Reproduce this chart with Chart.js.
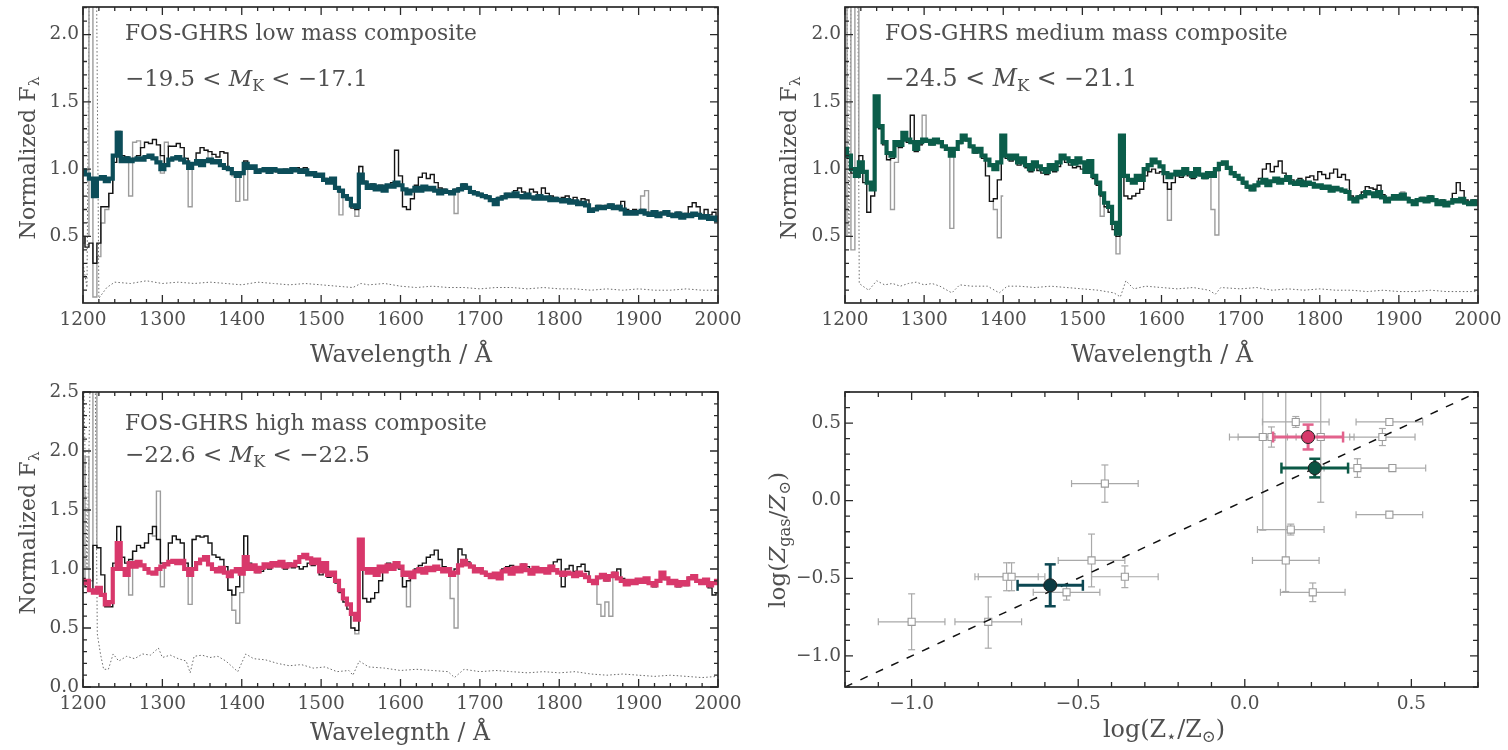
<!DOCTYPE html>
<html><head><meta charset="utf-8">
<script src="https://cdn.jsdelivr.net/npm/chart.js"></script>
<style>
html,body{margin:0;padding:0;background:#fff;overflow:hidden;width:1508px;height:750px}
canvas{position:absolute}
</style></head><body>
<canvas id="c1" width="754" height="375" style="left:0;top:0;width:754px;height:375px"></canvas>
<canvas id="c2" width="754" height="375" style="left:754px;top:0;width:754px;height:375px"></canvas>
<canvas id="c3" width="754" height="375" style="left:0;top:375px;width:754px;height:375px"></canvas>
<canvas id="c4" width="754" height="375" style="left:754px;top:375px;width:754px;height:375px"></canvas>
<script>
// ---------------- DATA ----------------
const WAVE = [
1200,1205,1210,1215,1220,1225,1230,1235,1240,1245,
1250,1255,1260,1265,1270,1275,1280,1285,1290,1295,
1300,1305,1310,1315,1320,1325,1330,1335,1340,1345,
1350,1355,1360,1365,1370,1375,1380,1385,1390,1395,
1400,1405,1410,1415,1420,1425,1430,1435,1440,1445,
1450,1455,1460,1465,1470,1475,1480,1485,1490,1495,
1500,1505,1510,1515,1520,1525,1530,1535,1540,1545,
1550,1555,1560,1565,1570,1575,1580,1585,1590,1595,
1600,1605,1610,1615,1620,1625,1630,1635,1640,1645,
1650,1655,1660,1665,1670,1675,1680,1685,1690,1695,
1700,1705,1710,1715,1720,1725,1730,1735,1740,1745,
1750,1755,1760,1765,1770,1775,1780,1785,1790,1795,
1800,1805,1810,1815,1820,1825,1830,1835,1840,1845,
1850,1855,1860,1865,1870,1875,1880,1885,1890,1895,
1900,1905,1910,1915,1920,1925,1930,1935,1940,1945,
1950,1955,1960,1965,1970,1975,1980,1985,1990,1995,
2000];
const X_TICKS = [1200,1300,1400,1500,1600,1700,1800,1900,2000];
const Y_TICKS_TOP = [0.5,1.0,1.5,2.0];
const Y_TICKS_BOTTOM = [0.0,0.5,1.0,1.5,2.0,2.5];
const Z_TICKS = [-1.0,-0.5,0.0,0.5];

// low mass composite
const LOW_MODEL = [
0.99,0.96,0.93,0.80,0.93,0.94,0.91,0.93,1.10,1.27,
1.06,1.08,1.06,1.07,1.08,1.07,1.09,1.10,1.08,1.05,
1.00,1.03,1.07,1.08,1.09,1.07,1.05,1.01,1.04,1.06,
1.03,1.06,1.07,1.05,1.06,1.03,1.01,1.00,0.97,0.95,
0.97,1.04,1.01,1.02,0.98,0.99,1.00,0.98,1.00,0.99,
0.98,0.99,0.98,1.00,0.99,0.98,0.99,0.96,0.97,0.95,
0.96,0.92,0.90,0.93,0.86,0.84,0.80,0.78,0.73,0.72,
0.96,0.90,0.86,0.88,0.85,0.87,0.84,0.88,0.87,0.90,
0.88,0.85,0.82,0.84,0.86,0.84,0.87,0.85,0.86,0.84,
0.82,0.84,0.83,0.82,0.84,0.85,0.88,0.86,0.83,0.82,
0.81,0.80,0.79,0.77,0.74,0.78,0.79,0.81,0.80,0.82,
0.80,0.79,0.81,0.79,0.78,0.80,0.78,0.79,0.77,0.78,
0.77,0.76,0.77,0.75,0.76,0.74,0.75,0.73,0.69,0.70,
0.72,0.71,0.72,0.73,0.71,0.72,0.70,0.67,0.68,0.67,
0.68,0.69,0.67,0.66,0.68,0.65,0.67,0.68,0.66,0.65,
0.67,0.64,0.66,0.65,0.67,0.66,0.64,0.65,0.63,0.64,
0.62];
const LOW_OBS = [
0.50,0.42,0.45,0.30,0.45,0.72,0.72,0.82,1.05,1.28,
1.10,1.09,1.07,1.08,1.10,1.16,1.20,1.19,1.22,1.18,
1.10,1.03,1.17,1.17,1.19,1.16,1.08,1.01,1.04,1.12,
1.16,1.14,1.13,1.11,1.09,1.13,1.12,1.01,0.98,0.95,
0.97,1.06,1.02,1.01,0.99,1.00,1.01,0.99,1.01,0.98,
0.99,1.00,0.99,1.01,1.01,1.00,1.01,0.97,0.98,0.96,
0.95,0.93,0.91,0.92,0.87,0.83,0.79,0.77,0.71,0.70,
1.02,0.91,0.87,0.89,0.86,0.88,0.85,0.87,0.90,1.14,
0.95,0.72,0.70,0.78,0.88,0.94,0.97,0.93,0.96,0.90,
0.86,0.85,0.84,0.83,0.85,0.86,0.89,0.87,0.84,0.83,
0.82,0.81,0.80,0.78,0.74,0.79,0.80,0.82,0.81,0.84,
0.86,0.83,0.82,0.85,0.83,0.81,0.86,0.82,0.80,0.79,
0.78,0.79,0.80,0.77,0.79,0.76,0.78,0.77,0.70,0.71,
0.73,0.72,0.73,0.74,0.72,0.73,0.76,0.70,0.69,0.70,
0.69,0.70,0.68,0.67,0.69,0.66,0.68,0.69,0.67,0.66,
0.68,0.65,0.67,0.72,0.75,0.72,0.66,0.70,0.66,0.68,
0.63];
const LOW_RAW_W = [1200,1205,1210,1215,1220,1225,1230,1235,1240,null,1255,1260,1265,1270,1275,null,1295,1300,1305,1310,null,1330,1335,1340,null,1355,1360,1365,null,1385,1390,1395,1400,1405,1410,null,1520,1525,1530,null,1540,1545,1550,null,1665,1670,1675,null,1900,1905,1910,1915];
const LOW_RAW = [0.45,0.50,5,0.05,0.35,0.60,0.70,0.82,1.05,null,1.09,0.80,1.20,1.21,1.16,null,1.18,0.97,1.20,1.17,null,1.08,0.72,1.04,null,1.14,1.08,1.11,null,1.01,0.95,0.76,0.96,0.77,1.02,null,0.86,0.66,0.80,null,0.71,0.65,1.02,null,0.84,0.67,0.86,null,0.69,0.80,0.84,0.67];
const LOW_ERR_W = [1200,1205,1210,1215,1220,1225,1230,1240,1260,1280,1300,1320,1340,1360,1380,1400,1420,1440,1460,1480,1500,1520,1540,1550,1560,1580,1600,1620,1640,1660,1680,1700,1720,1740,1760,1780,1800,1820,1840,1860,1880,1900,1920,1940,1960,1980,2000];
const LOW_ERR = [0.30,0.12,4,4,0.04,0.08,0.12,0.16,0.15,0.17,0.15,0.16,0.15,0.16,0.15,0.14,0.16,0.15,0.14,0.15,0.14,0.13,0.12,0.15,0.14,0.15,0.13,0.12,0.13,0.12,0.12,0.11,0.12,0.12,0.11,0.12,0.11,0.11,0.10,0.11,0.10,0.11,0.10,0.10,0.11,0.10,0.10];

// medium mass composite
const MED_MODEL = [
1.15,1.10,1.00,0.95,1.05,0.98,0.90,0.85,1.54,1.32,
1.20,1.12,1.10,1.20,1.18,1.27,1.22,1.20,1.15,1.20,
1.22,1.21,1.19,1.22,1.20,1.17,1.15,1.10,1.15,1.20,
1.25,1.22,1.17,1.13,1.15,1.10,1.07,1.03,1.00,1.05,
1.25,1.10,1.08,1.10,1.05,1.08,1.03,1.00,1.05,1.02,
1.00,0.98,1.03,1.00,1.05,1.10,1.08,1.06,1.04,1.08,
1.05,0.98,1.06,0.95,0.90,0.82,0.75,0.72,0.60,0.52,
1.25,0.95,0.92,0.90,0.95,0.92,1.00,1.03,1.07,1.05,
1.02,0.97,0.94,0.96,0.98,0.96,1.00,0.97,0.95,1.00,
0.96,0.94,0.97,0.95,1.00,1.04,1.05,1.01,0.97,0.95,
0.93,0.90,0.87,0.85,0.88,0.90,0.92,0.88,0.91,0.93,
0.90,0.92,0.94,0.90,0.89,0.91,0.88,0.90,0.89,0.87,
0.88,0.86,0.87,0.84,0.86,0.85,0.84,0.83,0.78,0.76,
0.79,0.80,0.83,0.82,0.80,0.83,0.79,0.76,0.78,0.80,
0.78,0.81,0.78,0.76,0.74,0.77,0.78,0.76,0.79,0.77,
0.74,0.76,0.73,0.75,0.77,0.76,0.78,0.75,0.74,0.76,
0.74];
const MED_OBS = [
1.12,1.08,0.97,1.00,1.10,0.90,0.68,0.80,1.50,1.30,
1.18,1.07,1.08,1.18,1.16,1.25,1.20,1.40,1.13,1.18,
1.20,1.20,1.18,1.21,1.19,1.16,1.14,1.10,1.14,1.19,
1.24,1.21,1.16,1.12,1.14,1.08,0.95,0.76,0.78,0.92,
1.20,1.08,1.06,1.08,1.03,1.06,1.01,0.98,1.02,0.99,
0.97,0.96,1.01,0.98,1.02,1.08,1.05,1.03,1.01,1.02,
1.00,0.97,1.02,0.93,0.88,0.80,0.72,0.68,0.55,0.50,
1.25,0.80,0.78,0.80,0.82,0.85,0.95,0.98,1.00,0.97,
0.98,0.90,0.85,0.90,0.95,0.94,0.97,0.95,0.93,0.98,
0.95,0.93,0.96,0.94,0.99,1.03,1.04,1.00,0.96,0.94,
0.92,0.89,0.86,0.84,0.87,0.93,1.00,1.04,0.98,1.02,
1.06,0.97,0.95,0.92,0.90,0.93,0.91,0.94,0.95,0.92,
0.98,0.96,0.93,0.97,1.00,0.94,0.96,0.92,0.80,0.77,
0.80,0.83,0.87,0.86,0.85,0.88,0.81,0.77,0.79,0.81,
0.79,0.80,0.79,0.77,0.75,0.78,0.79,0.77,0.80,0.78,
0.75,0.77,0.74,0.76,0.82,0.90,0.84,0.77,0.75,0.77,
0.75];
const MED_RAW_W = [1200,1205,1210,1215,1220,null,1255,1260,1265,1270,null,1295,1300,1305,null,1330,1335,1340,null,1385,1390,1395,1400,null,1520,1525,1530,null,1540,1545,1550,null,1605,1610,1615,null,1660,1665,1670,1675,null,1900,1905,1910];
const MED_RAW = [0.50,3.0,0.40,3.0,1.10,null,1.07,0.70,1.05,1.18,null,1.18,1.40,1.20,null,1.14,0.56,1.15,null,0.76,0.70,0.49,0.80,null,0.88,0.65,0.72,null,0.55,0.37,1.25,null,0.90,0.62,0.90,null,0.96,0.70,0.51,1.03,null,0.79,0.83,0.79];
const MED_ERR_W = [1200,1205,1210,1215,1218,1225,1230,1240,1250,1260,1270,1280,1290,1300,1310,1320,1335,1345,1360,1380,1395,1405,1420,1440,1460,1480,1500,1520,1540,1548,1555,1565,1580,1600,1620,1640,1660,1668,1675,1700,1720,1740,1760,1780,1800,1820,1840,1860,1880,1900,1920,1940,1960,1980,2000];
const MED_ERR = [4,0.5,4,4,0.15,0.12,0.10,0.17,0.14,0.15,0.13,0.15,0.16,0.14,0.15,0.13,0.08,0.14,0.13,0.13,0.08,0.13,0.13,0.12,0.13,0.12,0.11,0.10,0.08,0.05,0.17,0.11,0.13,0.12,0.11,0.12,0.10,0.07,0.12,0.11,0.12,0.10,0.11,0.10,0.11,0.10,0.10,0.09,0.10,0.09,0.09,0.10,0.09,0.09,0.09];

// high mass composite
const HIGH_MODEL = [
0.88,0.90,0.82,0.80,0.84,0.78,0.70,0.72,1.00,1.22,
1.00,0.95,1.05,1.02,1.06,1.03,1.00,0.97,0.96,1.00,
1.02,1.04,1.06,1.07,1.05,1.07,1.00,0.95,1.00,1.05,
1.08,1.10,1.04,1.00,0.98,1.01,0.97,0.94,0.98,1.00,
0.96,1.10,1.00,1.03,0.98,1.01,1.04,1.02,1.05,1.03,
1.06,1.02,1.04,1.03,1.06,1.10,1.12,1.09,1.05,1.08,
0.98,1.05,0.95,0.97,0.90,0.82,0.75,0.70,0.62,0.57,
1.25,1.00,0.97,1.00,0.95,1.02,0.98,1.03,1.00,1.05,
1.02,0.95,0.97,0.93,0.98,1.00,0.97,1.01,0.99,1.02,
1.00,0.98,1.00,0.95,0.97,1.03,1.07,1.04,1.02,0.98,
1.00,0.97,0.95,0.93,0.96,0.92,0.98,1.00,0.96,1.01,
0.98,1.03,0.99,0.96,1.01,0.98,1.00,0.97,1.02,0.99,
0.97,0.95,0.97,0.96,0.94,0.97,0.95,0.93,0.90,0.88,
0.93,0.95,0.91,0.94,0.96,0.92,0.90,0.87,0.90,0.88,
0.91,0.89,0.92,0.88,0.86,0.90,0.97,0.92,0.88,0.90,
0.86,0.89,0.87,0.92,0.94,0.90,0.88,0.91,0.86,0.88,
0.90];
const HIGH_OBS = [
0.92,0.85,0.82,1.20,1.18,0.95,0.68,0.68,1.05,1.36,
1.10,1.05,1.08,1.15,1.20,1.18,1.22,1.30,1.36,1.25,
1.05,1.05,1.22,1.28,1.25,1.22,1.05,0.95,1.25,1.28,
1.27,1.28,1.22,1.12,1.10,1.08,1.02,0.82,0.78,0.85,
1.00,1.28,1.05,1.00,0.97,0.98,1.02,1.00,1.04,1.02,
1.02,1.00,1.05,1.01,1.02,1.00,1.02,1.05,1.03,1.05,
0.95,1.02,0.93,0.94,0.88,0.80,0.72,0.66,0.50,0.48,
1.25,0.75,0.72,0.75,0.80,0.90,1.00,1.05,1.00,1.05,
1.00,0.85,0.90,0.95,1.00,1.03,1.05,1.10,1.12,1.16,
1.08,1.02,0.98,0.95,1.00,1.17,1.12,1.06,1.03,0.99,
1.01,0.98,0.96,0.94,0.95,0.93,1.00,1.02,1.03,1.02,
1.00,1.04,1.02,0.98,1.02,1.00,1.00,0.98,1.03,1.06,
1.08,0.85,1.00,1.03,0.98,1.02,1.04,0.98,0.90,0.89,
0.92,0.94,0.90,0.93,0.97,1.00,0.92,0.88,0.91,0.89,
0.90,0.88,0.91,0.87,0.85,0.89,0.96,0.91,0.87,0.89,
0.85,0.88,0.86,0.93,0.95,0.91,0.87,0.90,0.84,0.78,
0.80];
const HIGH_RAW_W = [1200,1205,1210,1215,1220,null,1255,1260,1265,null,1285,1290,1295,1300,1305,null,1330,1335,1340,null,1380,1385,1390,1395,1400,1405,null,1540,1545,1550,null,1600,1605,1610,1615,null,1660,1665,1670,1675,null,1845,1850,1855,1860,1865,1870];
const HIGH_RAW = [0.88,1.95,0.90,4.0,1.18,null,1.05,0.78,1.15,null,1.30,1.28,1.66,0.85,1.05,null,1.05,0.70,1.25,null,1.02,0.82,0.65,0.54,0.80,1.28,null,0.50,0.45,1.25,null,1.00,0.85,0.68,0.95,null,0.98,0.75,0.50,1.17,null,0.88,0.70,0.60,0.72,0.60,0.97];
const HIGH_ERR_W = [1200,1205,1210,1215,1218,1222,1226,1232,1238,1245,1255,1265,1275,1285,1295,1300,1310,1320,1330,1335,1340,1350,1360,1370,1380,1390,1395,1405,1415,1430,1445,1460,1475,1490,1505,1520,1535,1540,1548,1560,1580,1600,1620,1640,1660,1668,1680,1700,1720,1740,1760,1780,1800,1820,1840,1860,1880,1900,1920,1940,1960,1980,2000];
const HIGH_ERR = [3,1,3,3,0.45,0.28,0.15,0.15,0.28,0.22,0.26,0.24,0.28,0.27,0.33,0.25,0.27,0.24,0.22,0.12,0.26,0.27,0.25,0.26,0.22,0.16,0.13,0.28,0.24,0.23,0.20,0.18,0.19,0.16,0.17,0.13,0.14,0.10,0.22,0.17,0.16,0.14,0.15,0.14,0.13,0.08,0.15,0.13,0.14,0.13,0.12,0.13,0.12,0.13,0.11,0.10,0.11,0.10,0.09,0.10,0.09,0.08,0.09];

// metallicity comparison (literature points)
const LIT_ZSTAR = [-1.00,-0.77,-0.715,-0.70,-0.535,-0.46,-0.36,-0.42,0.153,0.054,0.08,0.228,0.413,0.434,0.338,0.443,0.434,0.138,0.123,0.204];
const LIT_ZGAS  = [-0.78,-0.78,-0.49,-0.49,-0.59,-0.385,-0.49,0.11,0.507,0.41,0.41,0.41,0.41,0.507,0.21,0.21,-0.09,-0.186,-0.385,-0.59];
const LIT_ZSTAR_ERR = [0.10,0.10,0.095,0.10,0.10,0.10,0.10,0.10,0.10,0.10,0.10,0.10,0.098,0.10,0.10,0.10,0.10,0.10,0.10,0.097];
const LIT_ZGAS_ERR_LO = [0.18,0.17,0.09,0.09,0.05,0.17,0.07,0.12,0.035,0.60,0.065,0.42,0.055,0.02,0.06,0.02,0.015,0.035,0.20,0.06];
const LIT_ZGAS_ERR_HI = [0.18,0.16,0.09,0.09,0.05,0.17,0.07,0.12,0.035,0.60,0.065,0.42,0.055,0.02,0.06,0.02,0.015,0.035,1.20,0.06];
// composites
const COMP_NAMES = ['low mass','medium mass','high mass'];
const COMP_ZSTAR = [-0.584,0.21,0.19];
const COMP_ZGAS = [-0.545,0.21,0.41];
const COMP_ZSTAR_ERR = [0.098,0.10,0.105];
const COMP_ZGAS_ERR = [0.135,0.06,0.08];
const ONE_TO_ONE = [-1.2,0.7];

// ---------------- STYLE ----------------
const FONT = '"DejaVu Serif", serif';
const TEXT_COLOR = '#4f4f4f';
const AXIS_COLOR = '#2a2a2a';
const COL_LOW = '#0c4d59', COL_MED = '#0b5d4a', COL_HIGH = '#d8386b';

function pts(xs, ys){ let last = xs[0]; return xs.map((x,i)=>{ if (x!==null) last = x; return {x:last, y:ys[i]}; }); }
function fmt1(v){ if (Math.abs(v) < 1e-9) return '0.0'; return (v<0?'\u2212':'') + Math.abs(v).toFixed(1); }

function axisX(min,max,ticks,h,fmt){ return {type:'linear', position:'bottom', min, max,
  grid:{display:false, drawTicks:false}, border:{display:false},
  ticks:{color:TEXT_COLOR, font:{family:FONT,size:18.5}, padding:6, maxRotation:0, minRotation:0, autoSkip:false, callback:(v)=>fmt(v)},
  afterBuildTicks: s => { s.ticks = ticks.map(v=>({value:v})); },
  afterFit: s => { s.height = h; s.paddingLeft=0; s.paddingRight=0; s.paddingTop=0; s.paddingBottom=0; } }; }
function axisY(min,max,ticks,w,fmt){ return {type:'linear', position:'left', min, max,
  grid:{display:false, drawTicks:false}, border:{display:false},
  ticks:{color:TEXT_COLOR, font:{family:FONT,size:18.5}, padding:4, autoSkip:false, callback:(v)=>fmt(v)},
  afterBuildTicks: s => { s.ticks = ticks.map(v=>({value:v})); },
  afterFit: s => { s.width = w; s.paddingLeft=0; s.paddingRight=0; s.paddingTop=0; s.paddingBottom=0; } }; }

function framePlugin(c){
  return { id:'frame', afterDatasetsDraw(chart){
    const ctx = chart.ctx, a = chart.chartArea, xs = chart.scales.x, ys = chart.scales.y;
    const isMajor = (v, arr) => arr.some(m => Math.abs(m-v) < 1e-6);
    const each = (min,max,step,fn) => { for (let k=Math.ceil(min/step-1e-6); k*step <= max+1e-6; k++) fn(+(k*step).toFixed(6)); };
    ctx.save(); ctx.strokeStyle = AXIS_COLOR; ctx.lineWidth = 1.3; ctx.beginPath();
    each(xs.min, xs.max, c.xMinor, v => { const L = isMajor(v,c.xMajor)?c.major:c.minor; const p = xs.getPixelForValue(v);
      ctx.moveTo(p,a.bottom); ctx.lineTo(p,a.bottom-L); ctx.moveTo(p,a.top); ctx.lineTo(p,a.top+L); });
    each(ys.min, ys.max, c.yMinor, v => { const L = isMajor(v,c.yMajor)?c.major:c.minor; const p = ys.getPixelForValue(v);
      ctx.moveTo(a.left,p); ctx.lineTo(a.left+L,p); ctx.moveTo(a.right,p); ctx.lineTo(a.right-L,p); });
    ctx.stroke();
    ctx.lineWidth = 1.7; ctx.strokeRect(a.left, a.top, a.right-a.left, a.bottom-a.top);
    ctx.restore();
  }};
}
function textPlugin(items){
  return { id:'richText', afterDraw(chart){
    const ctx = chart.ctx;
    items.forEach(it => {
      ctx.save();
      const segs = it.parts.map(p => typeof p === 'string' ? {t:p} : p);
      const measure = size => segs.map(s => { const fs = (s.sub?0.7:1)*size; const f = (s.italic?'italic ':'') + fs.toFixed(2) + 'px ' + FONT; ctx.font = f; return {s, f, w: ctx.measureText(s.t).width}; });
      let m = measure(20); let tot = m.reduce((a,b)=>a+b.w,0);
      const size = 20*it.w/tot; m = measure(size); tot = m.reduce((a,b)=>a+b.w,0);
      ctx.translate(it.x, it.y); if (it.rot) ctx.rotate(it.rot);
      ctx.fillStyle = TEXT_COLOR; ctx.textBaseline = 'alphabetic'; ctx.textAlign = 'left';
      let x = it.center ? -tot/2 : 0;
      m.forEach(r => { ctx.font = r.f; ctx.fillText(r.s.t, x, r.s.sub ? size*0.2 : 0); x += r.w; });
      ctx.restore();
    });
  }};
}

function spectrum(id, o){
  return new Chart(document.getElementById(id), {
    type:'line',
    data:{ datasets:[
      {label:o.name+' model', data:pts(WAVE,o.model), borderColor:o.color, borderWidth:4.2, stepped:'middle', pointRadius:0, order:1},
      {label:o.name+' observed', data:pts(WAVE,o.obs), borderColor:'#141414', borderWidth:1.4, stepped:'middle', pointRadius:0, order:2},
      {label:o.name+' unmasked', data:pts(o.rawW,o.raw), borderColor:'#9c9c9c', borderWidth:1.4, stepped:'middle', pointRadius:0, order:3, spanGaps:false},
      {label:o.name+' error', data:pts(o.errW,o.err), borderColor:'#6a6a6a', borderWidth:1, borderDash:[1.5,2.2], pointRadius:0, order:4}
    ]},
    options:{ responsive:false, animation:false, devicePixelRatio:1, events:[],
      layout:{padding:{top:o.top, right:o.right, bottom:0, left:0}},
      plugins:{legend:{display:false}, tooltip:{enabled:false}},
      scales:{ x:axisX(1200,2000,X_TICKS,o.xh,v=>String(v)), y:axisY(o.ymin,o.ymax,o.yticks,o.yw,fmt1) } },
    plugins:[framePlugin({xMinor:20, yMinor:0.1, xMajor:X_TICKS, yMajor:o.yticks, major:8, minor:4}), textPlugin(o.texts)]
  });
}

const ROT = -Math.PI/2;
spectrum('c1', {name:'low mass', model:LOW_MODEL, obs:LOW_OBS, rawW:LOW_RAW_W, raw:LOW_RAW, errW:LOW_ERR_W, err:LOW_ERR,
  color:COL_LOW, top:7, right:36, xh:72, yw:83, ymin:0.005, ymax:2.205, yticks:Y_TICKS_TOP,
  texts:[
    {x:125, y:40, w:352, parts:['FOS-GHRS low mass composite']},
    {x:125, y:86, w:243, parts:['\u221219.5 < ', {t:'M', italic:true}, {t:'K', sub:true}, ' < \u221217.1']},
    {x:401, y:362, w:182, center:true, parts:['Wavelength / \u00C5']},
    {x:35, y:158, w:163, center:true, rot:ROT, parts:['Normalized F', {t:'\u03BB', sub:true}]}
  ]});
spectrum('c2', {name:'medium mass', model:MED_MODEL, obs:MED_OBS, rawW:MED_RAW_W, raw:MED_RAW, errW:MED_ERR_W, err:MED_ERR,
  color:COL_MED, top:7, right:30, xh:72, yw:91, ymin:0.005, ymax:2.205, yticks:Y_TICKS_TOP,
  texts:[
    {x:131, y:40, w:403, parts:['FOS-GHRS medium mass composite']},
    {x:131, y:86, w:252, parts:['\u221224.5 < ', {t:'M', italic:true}, {t:'K', sub:true}, ' < \u221221.1']},
    {x:408, y:362, w:182, center:true, parts:['Wavelength / \u00C5']},
    {x:42, y:158, w:163, center:true, rot:ROT, parts:['Normalized F', {t:'\u03BB', sub:true}]}
  ]});
spectrum('c3', {name:'high mass', model:HIGH_MODEL, obs:HIGH_OBS, rawW:HIGH_RAW_W, raw:HIGH_RAW, errW:HIGH_ERR_W, err:HIGH_ERR,
  color:COL_HIGH, top:17, right:36, xh:63, yw:83, ymin:0, ymax:2.5, yticks:Y_TICKS_BOTTOM,
  texts:[
    {x:125, y:55, w:362, parts:['FOS-GHRS high mass composite']},
    {x:125, y:87, w:245, parts:['\u221222.6 < ', {t:'M', italic:true}, {t:'K', sub:true}, ' < \u221222.5']},
    {x:400, y:365, w:180, center:true, parts:['Wavelegnth / \u00C5']},
    {x:35, y:158, w:163, center:true, rot:ROT, parts:['Normalized F', {t:'\u03BB', sub:true}]}
  ]});

// metallicity panel
(function(){
  const LIT_BAR = '#a9a9a9';
  const ds = [];
  ds.push({type:'line', label:'one-to-one', data:ONE_TO_ONE.map(v=>({x:v,y:v})), borderColor:'#111', borderWidth:1.5, borderDash:[8,9], pointRadius:0, showLine:true, order:3});
  LIT_ZSTAR.forEach((x,i) => {
    const y = LIT_ZGAS[i];
    ds.push({label:'lit xerr', data:[{x:x-LIT_ZSTAR_ERR[i], y},{x:x+LIT_ZSTAR_ERR[i], y}], showLine:true, borderColor:LIT_BAR, borderWidth:1.2,
      pointStyle:'line', pointRotation:90, pointRadius:3.5, pointBorderColor:LIT_BAR, pointBorderWidth:1.2, order:5});
    ds.push({label:'lit yerr', data:[{x, y:y-LIT_ZGAS_ERR_LO[i]},{x, y:y+LIT_ZGAS_ERR_HI[i]}], showLine:true, borderColor:LIT_BAR, borderWidth:1.2,
      pointStyle:'line', pointRotation:0, pointRadius:3.5, pointBorderColor:LIT_BAR, pointBorderWidth:1.2, order:5});
  });
  ds.push({label:'literature', data:LIT_ZSTAR.map((x,i)=>({x, y:LIT_ZGAS[i]})), pointStyle:'rect', pointRadius:5,
    pointBackgroundColor:'#ffffff', pointBorderColor:'#9a9a9a', pointBorderWidth:1.1, showLine:false, order:4});
  const barCol = ['#0c4752', '#0b5946', '#e2628c'];
  const fillCol = ['#0c3b43', '#0b5443', '#d6386a'];
  COMP_ZSTAR.forEach((x,i) => {
    const y = COMP_ZGAS[i];
    ds.push({label:COMP_NAMES[i]+' xerr', data:[{x:x-COMP_ZSTAR_ERR[i], y},{x:x+COMP_ZSTAR_ERR[i], y}], showLine:true, borderColor:barCol[i], borderWidth:3,
      pointStyle:'line', pointRotation:90, pointRadius:5.5, pointBorderColor:barCol[i], pointBorderWidth:2.5, order:2});
    ds.push({label:COMP_NAMES[i]+' yerr', data:[{x, y:y-COMP_ZGAS_ERR[i]},{x, y:y+COMP_ZGAS_ERR[i]}], showLine:true, borderColor:barCol[i], borderWidth:3,
      pointStyle:'line', pointRotation:0, pointRadius:5.5, pointBorderColor:barCol[i], pointBorderWidth:2.5, order:2});
    ds.push({label:COMP_NAMES[i], data:[{x, y}], pointStyle:'circle', pointRadius:6.5, pointBackgroundColor:fillCol[i], pointBorderColor:'#222', pointBorderWidth:1, showLine:false, order:1});
  });
  new Chart(document.getElementById('c4'), {
    type:'scatter',
    data:{datasets:ds},
    options:{ responsive:false, animation:false, devicePixelRatio:1, events:[],
      layout:{padding:{top:17, right:30, bottom:0, left:0}},
      plugins:{legend:{display:false}, tooltip:{enabled:false}},
      scales:{ x:axisX(-1.2,0.7,Z_TICKS,63,fmt1), y:axisY(-1.2,0.7,Z_TICKS,91,fmt1) } },
    plugins:[framePlugin({xMinor:0.1, yMinor:0.1, xMajor:Z_TICKS, yMajor:Z_TICKS, major:8, minor:5}),
      textPlugin([
        {x:410, y:362, w:122, center:true, parts:['log(Z', {t:'\u22C6', sub:true}, '/Z', {t:'\u2299', sub:true}, ')']},
        {x:31, y:165, w:136, center:true, rot:ROT, parts:['log(', {t:'Z', italic:true}, {t:'gas', sub:true}, '/', {t:'Z', italic:true}, {t:'\u2299', sub:true}, ')']}
      ])]
  });
})();
</script></body></html>
